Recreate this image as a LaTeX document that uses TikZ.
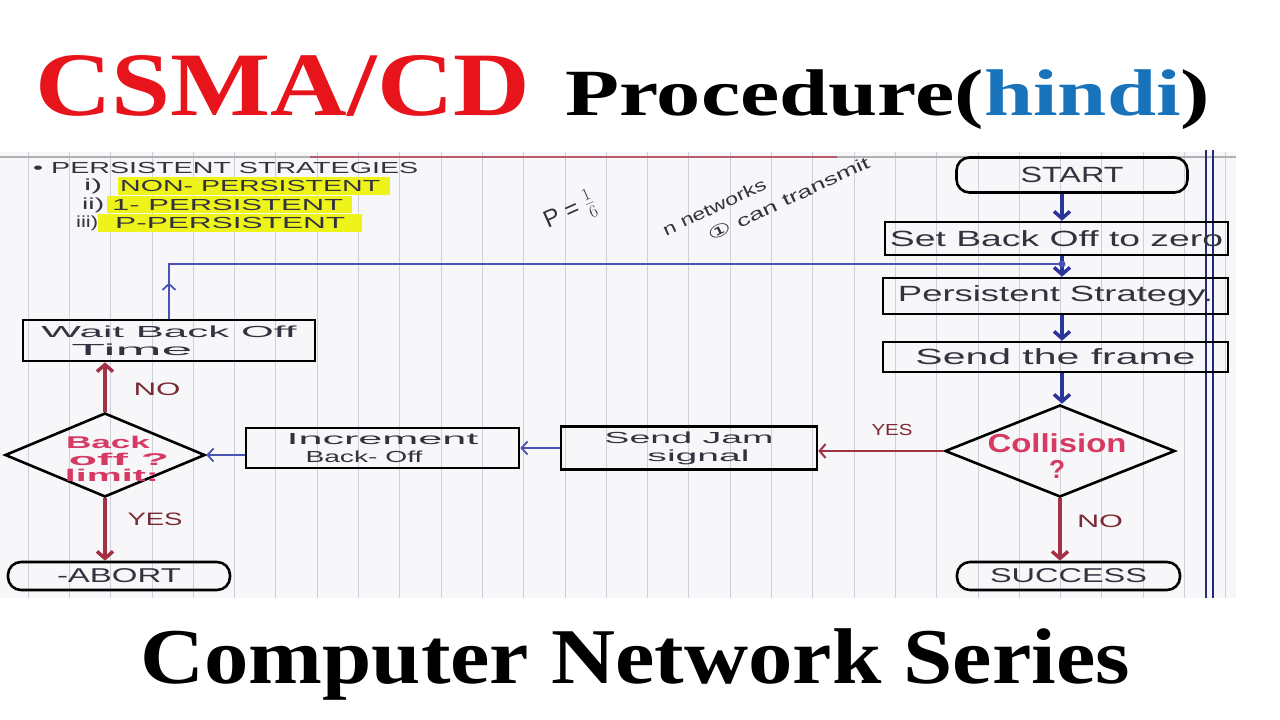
\documentclass[tikz,border=0pt]{standalone}
\usepackage{fontspec}
\setmainfont{Liberation Serif}
\newfontfamily\hand{Liberation Sans}
\newfontfamily\sym{DejaVu Sans}
\usetikzlibrary{shapes.geometric,arrows.meta}
\definecolor{titlered}{HTML}{E8141B}
\definecolor{hindiblue}{HTML}{1873BA}
\definecolor{paper}{HTML}{F7F7F9}
\definecolor{rule}{HTML}{CFCFD8}
\definecolor{flowblue}{HTML}{2B3499}
\definecolor{thinblue}{HTML}{4A52B4}
\definecolor{flowred}{HTML}{A33245}
\definecolor{pink}{HTML}{D63A63}
\definecolor{pen}{HTML}{33333F}
\definecolor{lblred}{HTML}{7A2A35}
\definecolor{hl}{HTML}{EEF31A}
\newcommand\hw[3]{\resizebox{#1}{\height}{\fontsize{#2}{#2}\selectfont\hand #3}}
\newcommand\hwb[3]{\resizebox{#1}{\height}{\fontsize{#2}{#2}\selectfont\hand\bfseries #3}}
\tikzset{
  box/.style={draw=black, line width=2.6pt, inner sep=0pt, text=pen},
  rbox/.style={box, rounded corners=13pt},
  dia/.style={draw=black, line width=2.6pt, diamond, inner sep=0pt},
  bmain/.style={draw=flowblue, line width=3.5pt, -{Straight Barb[length=7pt,width=16pt]}},
  bthin/.style={draw=thinblue, line width=1.8pt, -{Straight Barb[length=6pt,width=13pt]}},
  rmain/.style={draw=flowred, line width=3.5pt, -{Straight Barb[length=7pt,width=16pt]}},
  rthin/.style={draw=flowred, line width=2pt, -{Straight Barb[length=6pt,width=14pt]}},
  lbl/.style={inner sep=0pt, text=lblred},
  note/.style={inner sep=0pt, text=pen},
  pinktext/.style={inner sep=0pt, text=pink, align=center}
}
\begin{document}
\begin{tikzpicture}[x=1pt,y=-1pt]
\useasboundingbox (0,0) rectangle (1280,720);
\fill[white] (0,0) rectangle (1280,720);
% paper
\fill[paper] (0,152) rectangle (1236,598);
\foreach \k in {0,...,29} {
  \draw[rule, line width=0.8pt] ({28+41.3*\k},152) -- ({28+41.3*\k},598);
}
\draw[gray!60, line width=2pt] (0,157) -- (1236,157);
\draw[flowred!80, line width=2.5pt] (310,157) -- (837,157);
\draw[flowblue!80!black, line width=1.5pt] (1206,150) -- (1206,598);
\draw[flowblue!80!black, line width=1.5pt] (1213,150) -- (1213,598);

% titles
\node[anchor=base west, inner sep=0pt, text=titlered] (ttl1) at (35,115)
  {\resizebox{495pt}{60pt}{\bfseries CSMA/CD}};
\node[anchor=base west, inner sep=0pt] (ttl2) at (565,115)
  {\resizebox{645pt}{\height}{\fontsize{66pt}{66pt}\selectfont\bfseries Procedure(\textcolor{hindiblue}{hindi})}};
\node[anchor=base west, inner sep=0pt] (ttl3) at (140,683)
  {\resizebox{990pt}{\height}{\fontsize{79pt}{79pt}\selectfont\bfseries Computer Network Series}};

% left notes
\fill[hl] (118,177) rectangle (390,195);
\fill[hl] (107,196) rectangle (352,213);
\fill[hl] (98,214) rectangle (362,232);
\node[note, anchor=west] (n0) at (33,168) {\hw{385pt}{16pt}{• PERSISTENT STRATEGIES}};
\node[note, anchor=west] (n1a) at (84,186) {\hw{18pt}{16pt}{i)}};
\node[note, anchor=west] (n1) at (120,186) {\hw{260pt}{16pt}{NON- PERSISTENT}};
\node[note, anchor=west] (n2a) at (82,205) {\hw{22pt}{16pt}{ii)}};
\node[note, anchor=west] (n2) at (112,205) {\hw{231pt}{16pt}{1- PERSISTENT}};
\node[note, anchor=west] (n3a) at (76,223) {\hw{22pt}{16pt}{iii)}};
\node[note, anchor=west] (n3) at (115,223) {\hw{230pt}{16pt}{P-PERSISTENT}};

% stray annotations
\node[note, rotate=24] (pnote) at (570,212) {\fontsize{24pt}{24pt}\selectfont\hand P = \(\frac{1}{6}\)};
\node[note, rotate=25, align=left, font=\fontsize{17pt}{24pt}\selectfont] (netnote) at (766,196)
  {\hw{112pt}{17pt}{n networks}\\\hspace*{39pt}\hw{176pt}{17pt}{{\sym ①} can transmit}};

% flow nodes
\node[rbox, minimum width=231pt, minimum height=35pt] (start) at (1072,175) {\hw{103pt}{22pt}{START}};
\node[box, minimum width=343pt, minimum height=33pt] (set) at (1056.5,238.5) {\hw{333pt}{22pt}{Set Back Off to zero}};
\node[box, minimum width=345pt, minimum height=36pt] (pers) at (1055.5,296) {\hw{315pt}{22pt}{Persistent Strategy.}};
\node[box, minimum width=345pt, minimum height=30pt] (frame) at (1055.5,357) {\hw{280pt}{22pt}{Send the frame}};
\node[dia, minimum width=230pt, minimum height=92pt] (coll) at (1060,451) {};
\node[pinktext, font=\fontsize{26pt}{26pt}\selectfont] (colltxt) at (1057,456)
  {\hwb{139pt}{26pt}{Collision}\\\hwb{16pt}{26pt}{?}};
\node[rbox, minimum width=223pt, minimum height=28pt] (succ) at (1068.5,576) {\hw{157pt}{20pt}{SUCCESS}};
\node[box, minimum width=256pt, minimum height=43pt, align=left, font=\fontsize{16pt}{16pt}\selectfont] (jam) at (689,448)
  {\hw{169pt}{16pt}{Send Jam}\\[2pt]\hspace*{43pt}\hw{102pt}{16pt}{signal}};
\node[box, minimum width=273pt, minimum height=40pt, align=left, font=\fontsize{16pt}{16pt}\selectfont] (inc) at (382.5,448)
  {\hw{192pt}{16pt}{Increment}\\[2pt]\hspace*{19pt}\hw{117pt}{16pt}{Back- Off}};
\node[dia, minimum width=200pt, minimum height=84pt] (lim) at (105,455) {};
\node[pinktext, font=\fontsize{17pt}{16.5pt}\selectfont] (limtxt) at (108,459)
  {\hwb{84pt}{17pt}{Back}\\\hspace*{22pt}\hwb{100pt}{17pt}{off ?}\\\hspace*{8pt}\hwb{94pt}{17pt}{limit:}};
\node[box, minimum width=292pt, minimum height=41pt, align=left, font=\fontsize{16pt}{16pt}\selectfont] (wait) at (169,340.5)
  {\hw{255pt}{16pt}{Wait Back Off}\\[2pt]\hspace*{30pt}\hw{121pt}{16pt}{Time}};
\node[rbox, minimum width=222pt, minimum height=28pt] (abort) at (119,576) {\hw{124pt}{20pt}{-ABORT}};

% connectors
\coordinate (colx) at (1062,0);
\coordinate (j) at (1062,264);
\draw[bmain] (start.south -| colx) -- (set.north -| colx);
\draw[bmain] (set.south -| colx) -- (pers.north -| colx);
\draw[bmain] (pers.south -| colx) -- (frame.north -| colx);
\draw[bmain] (frame.south -| colx) -- (coll.north -| colx);
\draw[rmain] (coll.south) -- (coll.south |- succ.north);
\draw[rthin] (coll.west) -- (coll.west -| jam.east);
\draw[bthin] (jam.west) -- (jam.west -| inc.east);
\draw[bthin] (inc.west |- lim.east) -- (lim.east);
\draw[rmain] (lim.north) -- (lim.north |- wait.south);
\draw[rmain] (lim.south) -- (lim.south |- abort.north);
\draw[draw=thinblue, line width=1.8pt] (wait.north) -- (wait.north |- j) -- (j);
\draw[bthin] (wait.north) -- ++(0,-36);
\fill[thinblue] (j) circle (3.5);

% labels
\node[lbl] (no1) at (157,389) {\hw{47pt}{18pt}{NO}};
\node[lbl] (yes1) at (155,519) {\hw{55pt}{18pt}{YES}};
\node[lbl] (yes2) at (892,430) {\hw{41pt}{16pt}{YES}};
\node[lbl] (no2) at (1100,521) {\hw{46pt}{18pt}{NO}};
\end{tikzpicture}
\end{document}
